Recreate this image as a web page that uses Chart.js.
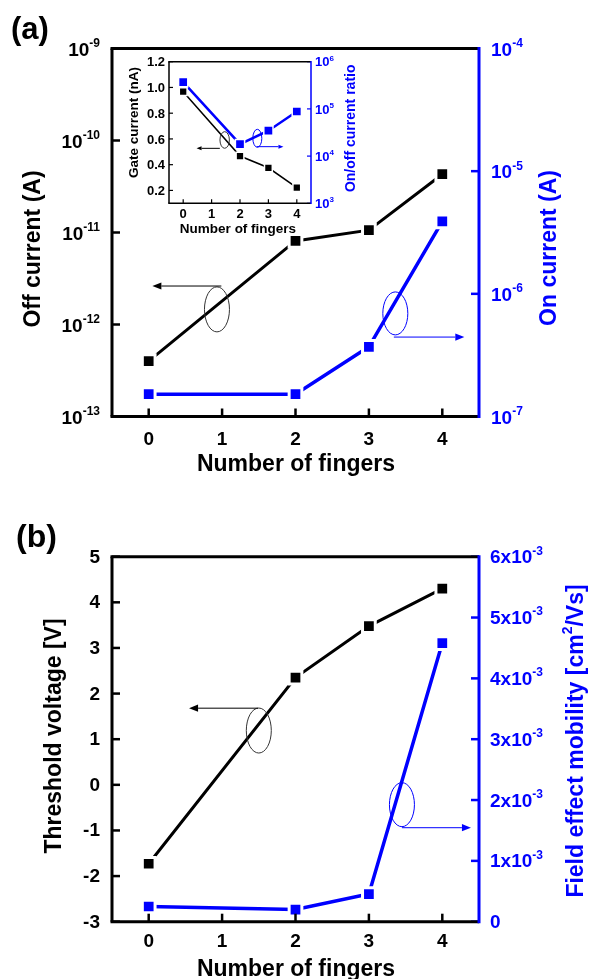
<!DOCTYPE html>
<html>
<head>
<meta charset="utf-8">
<script src="https://cdn.jsdelivr.net/npm/chart.js@4"></script>
<style>
    body { margin: 0; background: #fff; }
    #wrap { position: relative; width: 589px; height: 979px; }
    #wrap canvas { position: absolute; left: 0; top: 0; }
</style>
</head>
<body>
<div id="wrap">
    <canvas id="chart-a" width="589" height="979"></canvas>
    <canvas id="chart-b" width="589" height="979"></canvas>
    <canvas id="chart-inset" width="589" height="979"></canvas>
</div>
<script>
var BLUE = '#0000ff';
var FONT = '"Liberation Sans", Arial, Helvetica, sans-serif';

// x values shared by all panels
var fingers = [0, 2, 3, 4];
var fingerTicks = [0, 1, 2, 3, 4];

// (a) off / on current
var offCurrent = [4.0e-13, 8.1e-12, 1.06e-11, 4.3e-11];
var onCurrent = [1.52e-7, 1.52e-7, 3.7e-7, 3.9e-6];
var offTicks = [1e-13, 1e-12, 1e-11, 1e-10, 1e-9];
var onTicks = [1e-7, 1e-6, 1e-5, 1e-4];

// (a) inset: gate current / on-off ratio
var gateCurrent = [0.967, 0.467, 0.376, 0.221];
var onOffRatio = [3.7e5, 1.79e4, 3.45e4, 8.8e4];
var gateTicks = [0.2, 0.4, 0.6, 0.8, 1.0, 1.2];
var ratioTicks = [1e3, 1e4, 1e5, 1e6];

// (b) threshold voltage / mobility
var thresholdVoltage = [-1.73, 2.35, 3.48, 4.30];
var mobility = [2.5e-4, 2.0e-4, 4.55e-4, 4.58e-3];
var vthTicks = [-3, -2, -1, 0, 1, 2, 3, 4, 5];
var mobilityTicks = [0, 1e-3, 2e-3, 3e-3, 4e-3, 5e-3, 6e-3];

function points(xs, ys) {
    return xs.map(function (x, i) { return { x: x, y: ys[i] }; });
}

// tick label formatters -> list of text parts, sup = superscript
function plainLabel(v) { return [{ t: String(v) }]; }
function decimalLabel(v) { return [{ t: v.toFixed(1) }]; }
function powerLabel(v) {
    return [{ t: '10' }, { t: String(Math.round(Math.log10(v))), sup: true }];
}
function mobilityLabel(v) {
    if (v === 0) return [{ t: '0' }];
    return [{ t: Math.round(v * 1e3) + 'x10' }, { t: '-3', sup: true }];
}

function drawRich(ctx, parts, x, y, align, size, color) {
    var supSize = Math.round(size * 0.62);
    var total = 0;
    parts.forEach(function (p) {
        ctx.font = 'bold ' + (p.sup ? supSize : size) + 'px ' + FONT;
        p.w = ctx.measureText(p.t).width;
        total += p.w;
    });
    var cx = align === 'right' ? x - total : (align === 'center' ? x - total / 2 : x);
    ctx.fillStyle = color;
    ctx.textAlign = 'left';
    ctx.textBaseline = 'alphabetic';
    parts.forEach(function (p) {
        ctx.font = 'bold ' + (p.sup ? supSize : size) + 'px ' + FONT;
        ctx.fillText(p.t, cx, p.sup ? y - size * 0.45 : y);
        cx += p.w;
    });
}

function strokeLine(ctx, x1, y1, x2, y2, color, width) {
    ctx.strokeStyle = color;
    ctx.lineWidth = width;
    ctx.beginPath();
    ctx.moveTo(x1, y1);
    ctx.lineTo(x2, y2);
    ctx.stroke();
}

// axes frame, inward ticks, labels, titles and the ellipse/arrow marks
var framePlugin = {
    id: 'frame',
    afterDraw: function (chart, args, o) {
        var ctx = chart.ctx, a = chart.chartArea, lw = o.lineWidth, tl = o.tickLength;
        ctx.save();

        o.axes.forEach(function (ax) {
            var scale = chart.scales[ax.scale];
            ax.ticks.forEach(function (v) {
                var p = scale.getPixelForValue(v);
                if (ax.side === 'left') {
                    strokeLine(ctx, a.left, p, a.left + tl, p, ax.color, o.tickWidth);
                    drawRich(ctx, ax.label(v), a.left - ax.gap, p + ax.shift, 'right', o.fontSize, ax.color);
                } else if (ax.side === 'right') {
                    strokeLine(ctx, a.right, p, a.right - tl, p, ax.color, o.tickWidth);
                    drawRich(ctx, ax.label(v), a.right + ax.gap, p + ax.shift, 'left', o.fontSize, ax.color);
                } else {
                    strokeLine(ctx, p, a.bottom, p, a.bottom - tl, ax.color, o.tickWidth);
                    drawRich(ctx, ax.label(v), p, a.bottom + ax.gap, 'center', o.fontSize, ax.color);
                }
            });
        });

        strokeLine(ctx, a.left - lw / 2, a.top, a.right, a.top, '#000', lw);
        strokeLine(ctx, a.left, a.top, a.left, a.bottom, '#000', lw);
        strokeLine(ctx, a.left - lw / 2, a.bottom, a.right, a.bottom, '#000', lw);
        strokeLine(ctx, a.right, a.top - lw / 2, a.right, a.bottom + lw / 2, BLUE, lw);

        var xs = chart.scales.x, ys = chart.scales.y;
        (o.marks || []).forEach(function (m) {
            ctx.strokeStyle = m.color;
            ctx.fillStyle = m.color;
            ctx.lineWidth = 1;
            if (m.type === 'ellipse') {
                ctx.beginPath();
                ctx.ellipse(xs.getPixelForValue(m.x), ys.getPixelForValue(m.y), m.rx, m.ry, 0, 0, Math.PI * 2);
                ctx.stroke();
            } else {
                var x1 = xs.getPixelForValue(m.x1), x2 = xs.getPixelForValue(m.x2), y = ys.getPixelForValue(m.y);
                var dir = x2 > x1 ? 1 : -1;
                strokeLine(ctx, x1, y, x2 - dir * m.head, y, m.color, 1);
                ctx.beginPath();
                ctx.moveTo(x2, y);
                ctx.lineTo(x2 - dir * m.head, y - m.head * 0.4);
                ctx.lineTo(x2 - dir * m.head, y + m.head * 0.4);
                ctx.closePath();
                ctx.fill();
            }
        });

        (o.titles || []).forEach(function (t) {
            ctx.save();
            ctx.translate(t.x, t.y);
            if (t.rotate) ctx.rotate(-Math.PI / 2);
            drawRich(ctx, t.parts, 0, t.size * 0.34, 'center', t.size, t.color);
            ctx.restore();
        });

        if (o.panel) {
            ctx.font = 'bold ' + o.panel.size + 'px ' + FONT;
            ctx.fillStyle = '#000';
            ctx.textAlign = 'left';
            ctx.textBaseline = 'alphabetic';
            ctx.fillText(o.panel.text, o.panel.x, o.panel.y);
        }
        ctx.restore();
    }
};

function series(data, axis, color, width, radius) {
    return {
        data: data,
        yAxisID: axis,
        borderColor: color,
        borderWidth: width,
        backgroundColor: color,
        pointStyle: 'rect',
        pointRadius: radius,
        pointBackgroundColor: color,
        pointBorderColor: '#fff',
        pointBorderWidth: radius > 7 ? 3 : 1.5,
        tension: 0
    };
}

function baseOptions(pad, x, y, y1, frame) {
    return {
        responsive: false,
        animation: false,
        events: [],
        layout: { padding: pad },
        scales: { x: x, y: y, y1: y1 },
        plugins: { legend: { display: false }, tooltip: { enabled: false }, frame: frame }
    };
}

// ---------- (a) ----------
new Chart(document.getElementById('chart-a'), {
    type: 'line',
    data: {
        datasets: [
            series(points(fingers, offCurrent), 'y', '#000', 3, 9),
            series(points(fingers, onCurrent), 'y1', BLUE, 3.5, 9)
        ]
    },
    options: baseOptions(
        { left: 112, right: 110, top: 48.5, bottom: 562.5 },
        { type: 'linear', min: -0.5, max: 4.5, display: false },
        { type: 'logarithmic', min: 1e-13, max: 1e-9, display: false },
        { type: 'logarithmic', min: 1e-7, max: 1e-4, display: false, position: 'right' },
        {
            lineWidth: 3, tickLength: 8, tickWidth: 2.5, fontSize: 19,
            axes: [
                { side: 'left', scale: 'y', color: '#000', ticks: offTicks, label: powerLabel, gap: 12, shift: 7 },
                { side: 'right', scale: 'y1', color: BLUE, ticks: onTicks, label: powerLabel, gap: 12, shift: 7 },
                { side: 'bottom', scale: 'x', color: '#000', ticks: fingerTicks, label: plainLabel, gap: 28.5, shift: 0 }
            ],
            marks: [
                { type: 'ellipse', x: 0.93, y: 1.46e-12, rx: 12.5, ry: 22.5, color: '#333' },
                { type: 'arrow', x1: 0.99, x2: 0.05, y: 2.62e-12, head: 9, color: '#000' },
                { type: 'ellipse', x: 3.36, y: 1.32e-12, rx: 12.5, ry: 21.5, color: BLUE },
                { type: 'arrow', x1: 3.34, x2: 4.30, y: 7.3e-13, head: 9, color: BLUE }
            ],
            titles: [
                { parts: [{ t: 'Off current (A)' }], x: 32, y: 249, rotate: true, size: 23, color: '#000' },
                { parts: [{ t: 'On current (A)' }], x: 548, y: 248, rotate: true, size: 23, color: BLUE },
                { parts: [{ t: 'Number of fingers' }], x: 296, y: 463, size: 23, color: '#000' }
            ],
            panel: { text: '(a)', x: 11, y: 39, size: 31 }
        }
    ),
    plugins: [framePlugin]
});

// ---------- (b) ----------
new Chart(document.getElementById('chart-b'), {
    type: 'line',
    data: {
        datasets: [
            series(points(fingers, thresholdVoltage), 'y', '#000', 3, 9),
            series(points(fingers, mobility), 'y1', BLUE, 3.5, 9)
        ]
    },
    options: baseOptions(
        { left: 112, right: 110, top: 556.7, bottom: 57.3 },
        { type: 'linear', min: -0.5, max: 4.5, display: false },
        { type: 'linear', min: -3, max: 5, display: false },
        { type: 'linear', min: 0, max: 6e-3, display: false, position: 'right' },
        {
            lineWidth: 3, tickLength: 8, tickWidth: 2.5, fontSize: 19,
            axes: [
                { side: 'left', scale: 'y', color: '#000', ticks: vthTicks, label: plainLabel, gap: 12, shift: 6 },
                { side: 'right', scale: 'y1', color: BLUE, ticks: mobilityTicks, label: mobilityLabel, gap: 11, shift: 6.5 },
                { side: 'bottom', scale: 'x', color: '#000', ticks: fingerTicks, label: plainLabel, gap: 25, shift: 0 }
            ],
            marks: [
                { type: 'ellipse', x: 1.50, y: 1.19, rx: 12.5, ry: 22.5, color: '#333' },
                { type: 'arrow', x1: 1.49, x2: 0.55, y: 1.68, head: 9, color: '#000' },
                { type: 'ellipse', x: 3.45, y: -0.435, rx: 12.5, ry: 22, color: BLUE },
                { type: 'arrow', x1: 3.45, x2: 4.39, y: -0.94, head: 9, color: BLUE }
            ],
            titles: [
                { parts: [{ t: 'Threshold voltage [V]' }], x: 53, y: 736, rotate: true, size: 23, color: '#000' },
                { parts: [{ t: 'Field effect mobility [cm' }, { t: '2', sup: true }, { t: '/Vs]' }],
                  x: 575, y: 741, rotate: true, size: 23, color: BLUE },
                { parts: [{ t: 'Number of fingers' }], x: 296, y: 968, size: 23, color: '#000' }
            ],
            panel: { text: '(b)', x: 16, y: 547, size: 32 }
        }
    ),
    plugins: [framePlugin]
});

// ---------- (a) inset ----------
new Chart(document.getElementById('chart-inset'), {
    type: 'line',
    data: {
        datasets: [
            series(points(fingers, gateCurrent), 'y', '#000', 1.5, 5.5),
            series(points(fingers, onOffRatio), 'y1', BLUE, 2.5, 6.5)
        ]
    },
    options: baseOptions(
        { left: 169, right: 278, top: 61.7, bottom: 775.7 },
        { type: 'linear', min: -0.5, max: 4.5, display: false },
        { type: 'linear', min: 0.1, max: 1.2, display: false },
        { type: 'logarithmic', min: 1e3, max: 1e6, display: false, position: 'right' },
        {
            lineWidth: 1.5, tickLength: 4, tickWidth: 1.2, fontSize: 13,
            axes: [
                { side: 'left', scale: 'y', color: '#000', ticks: gateTicks, label: decimalLabel, gap: 4, shift: 4.7 },
                { side: 'right', scale: 'y1', color: BLUE, ticks: ratioTicks, label: powerLabel, gap: 4, shift: 4.7 },
                { side: 'bottom', scale: 'x', color: '#000', ticks: fingerTicks, label: plainLabel, gap: 15, shift: 0 }
            ],
            marks: [
                { type: 'ellipse', x: 1.46, y: 0.592, rx: 4.7, ry: 8.3, color: '#333' },
                { type: 'arrow', x1: 1.29, x2: 0.47, y: 0.527, head: 5, color: '#000' },
                { type: 'ellipse', x: 2.61, y: 0.605, rx: 4.5, ry: 9, color: BLUE },
                { type: 'arrow', x1: 2.59, x2: 3.53, y: 0.54, head: 5, color: BLUE }
            ],
            titles: [
                { parts: [{ t: 'Gate current (nA)' }], x: 133, y: 122.5, rotate: true, size: 13.5, color: '#000' },
                { parts: [{ t: 'On/off current ratio' }], x: 350, y: 128.3, rotate: true, size: 14, color: BLUE },
                { parts: [{ t: 'Number of fingers' }], x: 238, y: 228.3, size: 13.5, color: '#000' }
            ]
        }
    ),
    plugins: [framePlugin]
});
</script>
</body>
</html>
